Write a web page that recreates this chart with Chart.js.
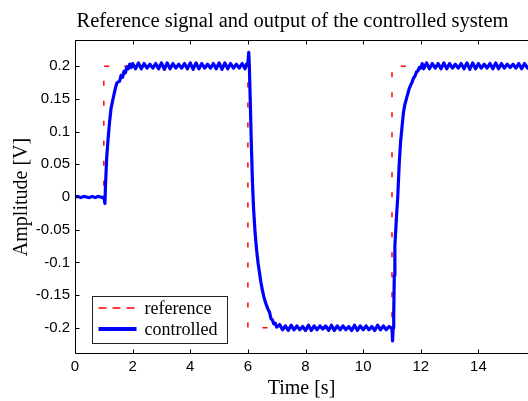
<!DOCTYPE html>
<html><head><meta charset="utf-8">
<script src="https://cdn.jsdelivr.net/npm/chart.js@4.4.1/dist/chart.umd.min.js"></script>
<style>html,body{margin:0;padding:0;background:#fff;overflow:hidden}#wrap{width:528px;height:401px;position:relative}</style>
</head><body><div id="wrap"><canvas id="c"></canvas></div>
<script>
const chartTitle = 'Reference signal and output of the controlled system';
const xAxisLabel = 'Time [s]';
const yAxisLabel = 'Amplitude [V]';
const seriesNames = ['reference', 'controlled'];
const xTicks = [0, 2, 4, 6, 8, 10, 12, 14];
const xTickLabels = ['0', '2', '4', '6', '8', '10', '12', '14'];
const yTicks = [-0.2, -0.15, -0.1, -0.05, 0, 0.05, 0.1, 0.15, 0.2];
const yTickLabels = ['-0.2', '-0.15', '-0.1', '-0.05', '0', '0.05', '0.1', '0.15', '0.2'];
const referencePoints = [[0,0],[1,0],[1,0.2],[6,0.2],[6,-0.2],[11,-0.2],[11,0.2],[16,0.2]];
const controlledPoints = [
 [0,0.000],[0.1,0.001],[0.2,-0.001],[0.3,0.001],[0.4,0.000],[0.5,-0.001],[0.6,0.001],[0.7,-0.001],[0.8,0.001],[0.9,0.000],[0.96,-0.001],[1.0,0.000],
 [1.04,-0.010],[1.06,0.020],[1.1,0.060],[1.15,0.090],[1.2,0.115],[1.25,0.135],[1.3,0.146],[1.35,0.156],[1.4,0.166],[1.45,0.174],[1.5,0.176],[1.55,0.177],[1.6,0.186],[1.65,0.183],[1.7,0.192],[1.75,0.190],[1.8,0.199],[1.85,0.196],[1.9,0.203],[1.95,0.198],[2.0,0.204],
 [2.1,0.196],[2.2,0.205],[2.3,0.196],[2.4,0.204],[2.5,0.197],[2.6,0.203],[2.7,0.197],[2.8,0.204],[2.9,0.196],[3.0,0.205],[3.1,0.195],[3.2,0.205],[3.3,0.196],[3.4,0.204],[3.5,0.197],[3.6,0.203],[3.7,0.197],[3.8,0.204],[3.9,0.196],[4.0,0.205],[4.1,0.195],[4.2,0.205],[4.3,0.196],[4.4,0.204],[4.5,0.197],[4.6,0.203],[4.7,0.197],[4.8,0.204],[4.9,0.196],[5.0,0.205],[5.1,0.195],[5.2,0.205],[5.3,0.196],[5.4,0.204],[5.5,0.197],[5.6,0.203],[5.7,0.197],[5.8,0.204],[5.9,0.196],
 [5.95,0.203],[6.0,0.205],[6.03,0.221],[6.05,0.200],[6.08,0.150],[6.12,0.080],[6.16,0.020],[6.2,-0.020],[6.25,-0.055],[6.3,-0.080],[6.35,-0.100],[6.4,-0.115],[6.45,-0.130],[6.5,-0.142],[6.55,-0.152],[6.6,-0.160],[6.65,-0.166],[6.7,-0.172],[6.75,-0.176],[6.8,-0.186],[6.85,-0.188],[6.9,-0.194],[6.95,-0.193],[7.0,-0.199],
 [7.1,-0.195],[7.2,-0.203],[7.3,-0.197],[7.4,-0.204],[7.5,-0.196],[7.6,-0.203],[7.7,-0.197],[7.8,-0.203],[7.9,-0.198],[8.0,-0.204],[8.1,-0.196],[8.2,-0.204],[8.3,-0.197],[8.4,-0.203],[8.5,-0.197],[8.6,-0.202],[8.7,-0.197],[8.8,-0.204],[8.9,-0.196],[9.0,-0.204],[9.1,-0.197],[9.2,-0.203],[9.3,-0.197],[9.4,-0.203],[9.5,-0.198],[9.6,-0.204],[9.7,-0.196],[9.8,-0.204],[9.9,-0.197],[10.0,-0.203],[10.1,-0.197],[10.2,-0.203],[10.3,-0.198],[10.4,-0.204],[10.5,-0.196],[10.6,-0.203],[10.7,-0.197],[10.8,-0.203],[10.9,-0.198],
 [10.97,-0.200],[11.0,-0.202],[11.02,-0.220],[11.04,-0.200],[11.06,-0.180],[11.08,-0.120],[11.1,-0.075],[11.15,-0.035],[11.2,0.000],[11.25,0.050],[11.3,0.085],[11.35,0.108],[11.4,0.130],[11.45,0.142],[11.5,0.150],[11.55,0.158],[11.6,0.166],[11.65,0.171],[11.7,0.176],[11.75,0.182],[11.8,0.185],[11.85,0.191],[11.9,0.193],[11.95,0.198],[12.0,0.197],[12.05,0.204],
 [12.1,0.196],[12.2,0.205],[12.3,0.196],[12.4,0.204],[12.5,0.197],[12.6,0.204],[12.7,0.196],[12.8,0.205],[12.9,0.196],[13.0,0.204],[13.1,0.197],[13.2,0.203],[13.3,0.197],[13.4,0.204],[13.5,0.196],[13.6,0.205],[13.7,0.195],[13.8,0.205],[13.9,0.196],[14.0,0.204],[14.1,0.197],[14.2,0.203],[14.3,0.197],[14.4,0.204],[14.5,0.196],[14.6,0.205],[14.7,0.196],[14.8,0.204],[14.9,0.197],[15.0,0.203],[15.1,0.198],[15.2,0.203],[15.3,0.197],[15.4,0.204],[15.5,0.196],[15.6,0.204],[15.7,0.197],[15.8,0.203]
];

const SERIF = '"Liberation Serif", "Times New Roman", serif';
const SANS = '"Liberation Sans", Arial, sans-serif';

const framePlugin = {
  id: 'frame',
  afterDraw(chart) {
    const ctx = chart.ctx, ca = chart.chartArea;
    const xs = chart.scales.x, ys = chart.scales.y;
    ctx.save();
    // title
    ctx.fillStyle = '#000';
    ctx.font = '20.5px ' + SERIF;
    ctx.textAlign = 'center';
    ctx.textBaseline = 'alphabetic';
    ctx.fillText(chartTitle, 292.5, 27);
    // axes frame (left, bottom, top)
    const L = Math.round(ca.left) + 0.5, T = Math.round(ca.top) + 0.5, B = Math.round(ca.bottom) - 0.5;
    ctx.strokeStyle = '#000';
    ctx.lineWidth = 1;
    ctx.beginPath();
    ctx.moveTo(ca.right, T); ctx.lineTo(L, T); ctx.lineTo(L, B); ctx.lineTo(ca.right, B);
    ctx.stroke();
    // inward ticks
    const tl = 4;
    ctx.beginPath();
    xs.ticks.forEach(t => {
      const px = Math.round(xs.getPixelForValue(t.value)) + 0.5;
      ctx.moveTo(px, B); ctx.lineTo(px, B - tl);
      ctx.moveTo(px, T); ctx.lineTo(px, T + tl);
    });
    ys.ticks.forEach(t => {
      const py = Math.round(ys.getPixelForValue(t.value)) + 0.5;
      ctx.moveTo(L, py); ctx.lineTo(L + tl, py);
    });
    ctx.stroke();
    // legend
    const bx = Math.round(ca.left + 17) + 0.5, by = Math.round(ca.bottom - 58) + 0.5, bw = 135, bh = 47;
    ctx.fillStyle = '#fff';
    ctx.fillRect(bx, by, bw, bh);
    ctx.strokeStyle = '#222';
    ctx.lineWidth = 1;
    ctx.strokeRect(bx, by, bw, bh);
    const ds = chart.data.datasets;
    const rows = [by + 11.5, by + 32.5];
    ds.forEach((d, i) => {
      const y = rows[i];
      ctx.save();
      ctx.strokeStyle = d.borderColor;
      ctx.lineWidth = i === 0 ? 1.5 : 4;
      ctx.setLineDash(i === 0 ? [8, 6] : []);
      ctx.beginPath();
      ctx.moveTo(bx + 6, y); ctx.lineTo(bx + 44, y);
      ctx.stroke();
      ctx.restore();
      ctx.fillStyle = '#000';
      ctx.font = '18px ' + SERIF;
      ctx.textAlign = 'left';
      ctx.textBaseline = 'alphabetic';
      ctx.fillText(d.label, bx + 52, y + 6);
    });
    ctx.restore();
  }
};

new Chart(document.getElementById('c'), {
  type: 'line',
  data: {
    datasets: [
      {
        label: seriesNames[0],
        data: referencePoints.map(p => ({x: p[0], y: p[1]})),
        borderColor: '#ff0000',
        borderWidth: 1.5,
        borderDash: [5, 15],
        pointRadius: 0,
        tension: 0,
        fill: false,
        order: 1
      },
      {
        label: seriesNames[1],
        data: controlledPoints.map(p => ({x: p[0], y: p[1]})),
        borderColor: '#0000ff',
        borderWidth: 3.2,
        pointRadius: 0,
        tension: 0,
        fill: false,
        borderJoinStyle: 'round',
        order: 0
      }
    ]
  },
  options: {
    responsive: true,
    maintainAspectRatio: false,
    animation: false,
    devicePixelRatio: 1,
    layout: {padding: {top: 40, left: 0, right: 0, bottom: 0}},
    plugins: {legend: {display: false}, title: {display: false}, tooltip: {enabled: false}},
    scales: {
      x: {
        type: 'linear',
        min: 0,
        max: 15.72,
        afterBuildTicks: s => { s.ticks = xTicks.map(v => ({value: v})); },
        afterFit: s => { s.height = 47; },
        ticks: {
          includeBounds: false,
          autoSkip: false,
          maxRotation: 0,
          padding: 4,
          color: '#000',
          font: {family: SANS, size: 15},
          callback: (v, i) => xTickLabels[i]
        },
        grid: {drawOnChartArea: false, drawTicks: false},
        border: {display: false},
        title: {display: true, text: xAxisLabel, color: '#000', font: {family: SERIF, size: 20}, padding: {top: 0, bottom: 0}}
      },
      y: {
        type: 'linear',
        min: -0.24,
        max: 0.24,
        afterBuildTicks: s => { s.ticks = yTicks.map(v => ({value: v})); },
        afterFit: s => { s.width = 75; },
        ticks: {
          includeBounds: false,
          autoSkip: false,
          padding: 5,
          color: '#000',
          font: {family: SANS, size: 15},
          callback: (v, i) => yTickLabels[i]
        },
        grid: {drawOnChartArea: false, drawTicks: false},
        border: {display: false},
        title: {display: true, text: yAxisLabel, color: '#000', font: {family: SERIF, size: 20}, padding: {top: 10, bottom: 0}}
      }
    }
  },
  plugins: [framePlugin]
});
</script>
</body></html>
